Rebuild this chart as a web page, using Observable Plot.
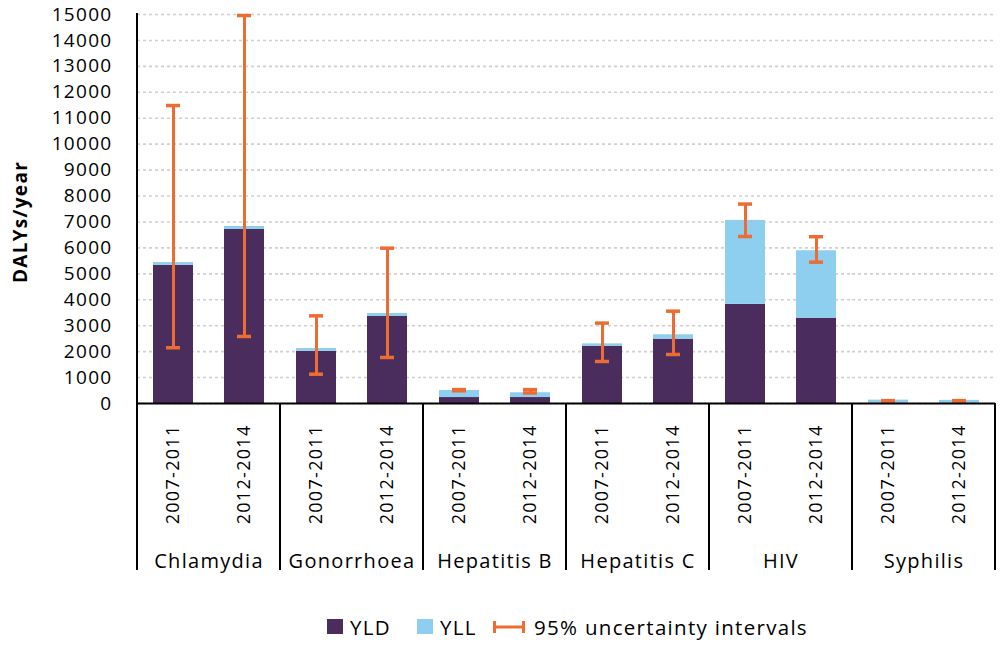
<!DOCTYPE html>
<html>
<head>
<meta charset="utf-8">
<script src="https://cdn.jsdelivr.net/npm/d3@7"></script>
<script src="https://cdn.jsdelivr.net/npm/@observablehq/plot@0.6"></script>
<style>
  body { margin: 0; background: #fff; font-family: "Open Sans", sans-serif; }
  #chart svg text { letter-spacing: 1.3px; }
  .legend { position: relative; height: 45px; font-size: 20.5px; letter-spacing: 1.3px; color: #000; }
  .legend .item { position: absolute; top: 4px; height: 45px; display: flex; align-items: center; }
  .legend .sw { display: inline-block; width: 16px; height: 15px; margin-right: 7px; }
</style>
</head>
<body>
<div id="chart"></div>
<div class="legend" id="legend"></div>
<script>
// ---- data ----
const diseases = ["Chlamydia", "Gonorrhoea", "Hepatitis B", "Hepatitis C", "HIV", "Syphilis"];
const periods = ["2007-2011", "2012-2014"];
// order: disease x period
const yldValues = [5330, 6710, 2015, 3355, 230, 230, 2210, 2480, 3820, 3290, 10, 10];
const yllValues = [105, 115, 105, 115, 270, 185, 90, 170, 3240, 2600, 120, 110];
const ciLow = [2150, 2585, 1130, 1775, 490, 405, 1620, 1890, 6440, 5450, 80, 80];
const ciHigh = [11490, 14960, 3380, 5990, 535, 535, 3100, 3560, 7690, 6430, 110, 110];
const yTicks = d3.range(0, 15001, 1000);
const seriesNames = ["YLD", "YLL"];
const colors = { YLD: "#4a2d5c", YLL: "#8ecfef", CI: "#ec6c33" };

const rows = [];
diseases.forEach((d, i) => periods.forEach((p, j) => {
  const k = i * 2 + j;
  rows.push({ disease: d, period: p, YLD: yldValues[k], YLL: yllValues[k], lo: ciLow[k], hi: ciHigh[k] });
}));
const stacked = rows.flatMap(r => seriesNames.map(s => ({ disease: r.disease, period: r.period, type: s, value: r[s] })));

const chart = Plot.plot({
  width: 1000,
  height: 600,
  marginTop: 14,
  marginBottom: 197,
  marginLeft: 137,
  marginRight: 5,
  style: { fontFamily: "Open Sans, sans-serif", color: "#000", background: "#fff" },
  fx: { domain: diseases, padding: 0 },
  x: { domain: periods, paddingInner: 0.44, paddingOuter: 0.22 },
  y: { domain: [0, 15000] },
  color: { domain: seriesNames, range: [colors.YLD, colors.YLL] },
  marks: [
    Plot.gridY(yTicks, { stroke: "#cfcfcf", strokeOpacity: 1, strokeWidth: 1.6, strokeDasharray: "3,3" }),
    Plot.barY(stacked, { fx: "disease", x: "period", y: "value", fill: "type" }),
    Plot.ruleX(rows, { fx: "disease", x: "period", y1: "lo", y2: "hi", stroke: colors.CI, strokeWidth: 3 }),
    Plot.tickY(rows, { fx: "disease", x: "period", y: "lo", stroke: colors.CI, strokeWidth: 3.5, inset: 13 }),
    Plot.tickY(rows, { fx: "disease", x: "period", y: "hi", stroke: colors.CI, strokeWidth: 3.5, inset: 13 }),
    Plot.ruleY([0], { stroke: "#000", strokeWidth: 2 }),
    Plot.axisY({ ticks: yTicks, tickSize: 0, tickPadding: 25, tickFormat: d3.format("d"), fontSize: 19, label: null }),
    Plot.axisX({ anchor: "bottom", tickRotate: -90, tickSize: 0, tickPadding: 21, fontSize: 18, label: null }),
    Plot.axisFx({ anchor: "bottom", tickSize: 0, tickPadding: 150, fontSize: 20, label: null })
  ]
});
document.getElementById("chart").appendChild(chart);

// separators and y-axis line, positioned through the Plot scales
const svg = d3.select(chart);
const fxs = chart.scale("fx"), ys = chart.scale("y");
const bw = fxs.bandwidth != null ? fxs.bandwidth : (fxs.range[1] - fxs.range[0]) / diseases.length;
const edges = diseases.map(d => fxs.apply(d)).concat([fxs.apply(diseases[diseases.length - 1]) + bw]);
const y0 = ys.apply(0), yTop = ys.apply(15000);
const g = svg.append("g").attr("stroke", "#000").attr("stroke-width", 2);
edges.forEach((x, i) => {
  g.append("line").attr("x1", x).attr("x2", x)
    .attr("y1", i === 0 ? yTop - 1 : y0).attr("y2", y0 + 167);
});
svg.append("text")
  .attr("transform", "translate(20,222) rotate(-90)")
  .attr("text-anchor", "middle").attr("dy", "0.35em")
  .attr("font-weight", "bold").attr("font-size", 19)
  .attr("fill", "#000")
  .text("DALYs/year");

// legend
const legend = document.getElementById("legend");
legend.innerHTML = `
  <div class="item" style="left:327px"><span class="sw" style="background:${colors.YLD}"></span>YLD</div>
  <div class="item" style="left:417px"><span class="sw" style="background:${colors.YLL}"></span>YLL</div>
  <div class="item" style="left:493px"><svg width="32" height="16" style="margin-right:9px">
     <line x1="1.5" x2="30.5" y1="8" y2="8" stroke="${colors.CI}" stroke-width="3"/>
     <line x1="1.5" x2="1.5" y1="2" y2="14" stroke="${colors.CI}" stroke-width="3"/>
     <line x1="30.5" x2="30.5" y1="2" y2="14" stroke="${colors.CI}" stroke-width="3"/>
   </svg>95% uncertainty intervals</div>`;
</script>
</body>
</html>
